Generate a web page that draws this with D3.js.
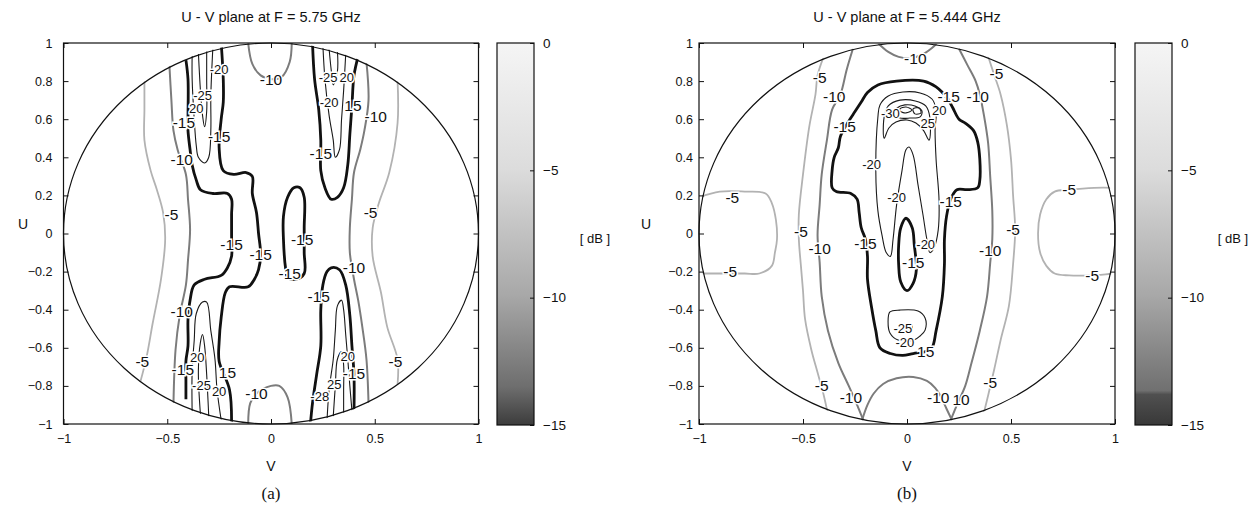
<!DOCTYPE html>
<html>
<head>
<meta charset="utf-8">
<script src="https://cdn.jsdelivr.net/npm/d3@7"></script>
<style>
  body { margin: 0; background: #fff; }
  svg text { font-family: "Liberation Sans", Arial, Helvetica, sans-serif; }
  svg text.caption { font-family: "Liberation Serif", "Times New Roman", serif; }
</style>
</head>
<body>
<svg id="chart" width="1256" height="506"></svg>
<script>
// tick values and texts
const vTicks = [-1, -0.5, 0, 0.5, 1];
const uTicks = [-1, -0.8, -0.6, -0.4, -0.2, 0, 0.2, 0.4, 0.6, 0.8, 1];
const dbTicks = [0, -5, -10, -15];
const titles = ["U - V plane at F = 5.75 GHz", "U - V plane at F = 5.444 GHz"];
const captions = ["(a)", "(b)"];

// contour lines, level in dB, points as [v, u]
const contoursA = [
  {level: -5, pts: [[-0.61,0.80],[-0.61,0.65],[-0.61,0.49],[-0.58,0.33],[-0.55,0.23],[-0.52,0.11],[-0.51,-0.03],[-0.53,-0.24],[-0.57,-0.47],[-0.60,-0.65],[-0.63,-0.78]]},
  {level: -5, pts: [[0.61,0.80],[0.61,0.58],[0.57,0.32],[0.52,0.16],[0.49,0.03],[0.49,-0.12],[0.53,-0.31],[0.56,-0.49],[0.61,-0.66],[0.61,-0.79]]},
  {level: -10, pts: [[-0.49,0.89],[-0.48,0.70],[-0.47,0.54],[-0.45,0.44],[-0.41,0.31],[-0.40,0.18],[-0.39,0.02],[-0.40,-0.14],[-0.41,-0.27],[-0.44,-0.43],[-0.46,-0.61],[-0.47,-0.89]]},
  {level: -10, pts: [[0.46,0.90],[0.47,0.70],[0.45,0.54],[0.43,0.44],[0.40,0.32],[0.39,0.18],[0.38,0.03],[0.38,-0.10],[0.40,-0.24],[0.42,-0.35],[0.44,-0.49],[0.46,-0.66],[0.47,-0.89]]},
  {level: -10, pts: [[-0.11,1.0],[-0.09,0.89],[-0.05,0.83],[0.0,0.81],[0.05,0.82],[0.09,0.90],[0.10,1.0]]},
  {level: -10, pts: [[-0.11,-1.0],[-0.10,-0.89],[-0.07,-0.84],[0.0,-0.80],[0.04,-0.80],[0.08,-0.86],[0.10,-1.0]]},
  {level: -15, pts: [[-0.41,0.91],[-0.40,0.81],[-0.40,0.61],[-0.40,0.54],[-0.39,0.44],[-0.38,0.36],[-0.36,0.28],[-0.34,0.23],[-0.28,0.21],[-0.21,0.21],[-0.19,0.18],[-0.19,0.10],[-0.19,-0.01],[-0.19,-0.12],[-0.21,-0.18],[-0.24,-0.22],[-0.32,-0.24],[-0.37,-0.27],[-0.39,-0.35],[-0.40,-0.45],[-0.40,-0.59],[-0.41,-0.67],[-0.41,-0.77],[-0.41,-0.87]]},
  {level: -15, pts: [[-0.24,1.0],[-0.23,0.81],[-0.23,0.69],[-0.24,0.60],[-0.25,0.45],[-0.23,0.33],[-0.18,0.31],[-0.12,0.32],[-0.09,0.30],[-0.09,0.21],[-0.07,0.11],[-0.06,0.0],[-0.05,-0.11],[-0.06,-0.19],[-0.08,-0.24],[-0.11,-0.28],[-0.20,-0.28],[-0.22,-0.31],[-0.24,-0.44],[-0.25,-0.57],[-0.25,-0.67],[-0.20,-0.82],[-0.19,-1.0]]},
  {level: -15, closed: true, pts: [[0.07,-0.18],[0.06,-0.03],[0.06,0.09],[0.08,0.19],[0.11,0.24],[0.14,0.24],[0.16,0.19],[0.16,0.03],[0.16,-0.10],[0.16,-0.21],[0.12,-0.24],[0.08,-0.23]]},
  {level: -15, pts: [[0.20,1.0],[0.21,0.81],[0.23,0.65],[0.24,0.49],[0.24,0.33],[0.26,0.24],[0.29,0.18],[0.32,0.19],[0.35,0.24],[0.37,0.36],[0.38,0.52],[0.39,0.67],[0.40,0.83],[0.42,0.93]]},
  {level: -15, pts: [[0.19,-1.0],[0.20,-0.89],[0.22,-0.74],[0.24,-0.59],[0.24,-0.40],[0.25,-0.27],[0.27,-0.20],[0.29,-0.18],[0.33,-0.19],[0.36,-0.27],[0.38,-0.43],[0.39,-0.59],[0.40,-0.74],[0.40,-0.93]]},
  {level: -20, pts: [[-0.38,0.94],[-0.38,0.81],[-0.37,0.60],[-0.36,0.46],[-0.35,0.40],[-0.32,0.37],[-0.30,0.40],[-0.29,0.54],[-0.29,0.72],[-0.28,0.98]]},
  {level: -25, pts: [[-0.35,0.95],[-0.34,0.75],[-0.33,0.62],[-0.32,0.56],[-0.31,0.64],[-0.31,0.81],[-0.31,0.97]]},
  {level: -20, pts: [[0.25,0.99],[0.26,0.81],[0.28,0.62],[0.30,0.49],[0.31,0.40],[0.33,0.44],[0.34,0.60],[0.35,0.75],[0.36,0.94]]},
  {level: -25, pts: [[0.28,0.97],[0.29,0.86],[0.30,0.78],[0.32,0.85],[0.32,0.96]]},
  {level: -20, pts: [[-0.38,-0.94],[-0.38,-0.72],[-0.37,-0.56],[-0.36,-0.42],[-0.33,-0.36],[-0.31,-0.36],[-0.29,-0.51],[-0.27,-0.66],[-0.26,-0.82],[-0.24,-0.98]]},
  {level: -25, pts: [[-0.34,-0.95],[-0.35,-0.72],[-0.34,-0.57],[-0.33,-0.53],[-0.32,-0.59],[-0.31,-0.74],[-0.30,-0.96]]},
  {level: -20, pts: [[0.27,-0.98],[0.28,-0.82],[0.30,-0.66],[0.31,-0.51],[0.32,-0.38],[0.34,-0.35],[0.35,-0.40],[0.36,-0.53],[0.37,-0.66],[0.38,-0.80],[0.39,-0.93]]},
  {level: -25, pts: [[0.30,-0.96],[0.31,-0.80],[0.32,-0.66],[0.34,-0.62],[0.35,-0.69],[0.35,-0.82],[0.35,-0.94]]}
];

const labelsA = [
  [-0.48, 0.10, "-5"], [0.48, 0.11, "-5"], [-0.62, -0.67, "-5"], [0.60, -0.67, "-5"],
  [-0.43, 0.39, "-10"], [-0.43, -0.41, "-10"], [0.0, 0.81, "-10"], [-0.07, -0.84, "-10"],
  [0.505, 0.615, "-10"], [0.40, -0.18, "-10"],
  [-0.42, 0.585, "-15"], [-0.25, 0.51, "-15"], [0.24, 0.42, "-15"], [0.395, 0.67, "15"],
  [-0.19, -0.06, "-15"], [-0.05, -0.11, "-15"], [0.15, -0.03, "-15"], [0.09, -0.21, "-15"],
  [0.23, -0.33, "-15"], [-0.425, -0.715, "-15"], [-0.21, -0.73, "15"], [0.40, -0.735, "-15"],
  [-0.25, 0.86, "-20"], [-0.36, 0.655, "20"], [0.28, 0.69, "-20"], [0.365, 0.82, "20"],
  [-0.355, -0.65, "20"], [-0.25, -0.83, "20"], [0.37, -0.645, "20"],
  [-0.33, 0.725, "-25"], [0.275, 0.82, "-25"], [-0.335, -0.80, "-25"], [0.305, -0.795, "25"], [0.235, -0.855, "-28"]
];

const contoursB = [
  {level: -5, pts: [[-1.0,0.19],[-0.90,0.22],[-0.78,0.22],[-0.68,0.21],[-0.65,0.16],[-0.63,0.07],[-0.625,-0.03],[-0.635,-0.10],[-0.65,-0.17],[-0.71,-0.21],[-0.78,-0.21],[-0.90,-0.21],[-1.0,-0.21]]},
  {level: -5, pts: [[1.0,0.24],[0.90,0.24],[0.78,0.23],[0.71,0.22],[0.67,0.18],[0.64,0.10],[0.63,0.0],[0.64,-0.10],[0.67,-0.17],[0.71,-0.21],[0.78,-0.22],[0.88,-0.22],[1.0,-0.21]]},
  {level: -5, pts: [[-0.40,0.93],[-0.43,0.83],[-0.44,0.73],[-0.47,0.56],[-0.50,0.31],[-0.52,0.10],[-0.52,-0.03],[-0.51,-0.17],[-0.50,-0.30],[-0.49,-0.45],[-0.46,-0.61],[-0.43,-0.73],[-0.40,-0.85],[-0.38,-0.95]]},
  {level: -5, pts: [[0.39,0.93],[0.42,0.83],[0.45,0.73],[0.48,0.57],[0.50,0.39],[0.51,0.20],[0.52,0.02],[0.51,-0.16],[0.49,-0.38],[0.45,-0.56],[0.42,-0.71],[0.39,-0.85],[0.37,-0.94]]},
  {level: -10, pts: [[-0.26,0.97],[-0.29,0.86],[-0.32,0.73],[-0.36,0.65],[-0.385,0.49],[-0.41,0.31],[-0.42,0.15],[-0.43,-0.01],[-0.42,-0.15],[-0.41,-0.33],[-0.38,-0.51],[-0.33,-0.68],[-0.28,-0.80],[-0.24,-0.90],[-0.21,-0.98]]},
  {level: -10, pts: [[0.25,0.97],[0.29,0.885],[0.33,0.80],[0.35,0.73],[0.37,0.62],[0.39,0.475],[0.40,0.30],[0.41,0.12],[0.41,-0.03],[0.40,-0.155],[0.385,-0.33],[0.35,-0.51],[0.31,-0.68],[0.28,-0.80],[0.24,-0.90],[0.21,-0.98]]},
  {level: -10, pts: [[-0.14,1.0],[-0.09,0.953],[-0.04,0.927],[0.014,0.92],[0.07,0.937],[0.12,0.974],[0.145,1.0]]},
  {level: -10, pts: [[-0.216,-0.98],[-0.19,-0.90],[-0.16,-0.84],[-0.115,-0.79],[-0.05,-0.76],[0.03,-0.753],[0.096,-0.774],[0.135,-0.81],[0.16,-0.85],[0.19,-0.92],[0.216,-0.98]]},
  {level: -15, closed: true, pts: [[0.03,-0.63],[-0.02,-0.64],[-0.08,-0.63],[-0.13,-0.60],[-0.15,-0.51],[-0.17,-0.39],[-0.19,-0.24],[-0.19,-0.12],[-0.20,-0.03],[-0.22,0.03],[-0.23,0.11],[-0.24,0.18],[-0.27,0.21],[-0.34,0.22],[-0.36,0.24],[-0.36,0.33],[-0.35,0.40],[-0.33,0.45],[-0.32,0.51],[-0.28,0.59],[-0.25,0.64],[-0.22,0.69],[-0.19,0.74],[-0.14,0.78],[-0.05,0.80],[0.08,0.80],[0.14,0.77],[0.17,0.74],[0.20,0.70],[0.22,0.66],[0.25,0.60],[0.28,0.58],[0.32,0.54],[0.34,0.48],[0.35,0.39],[0.35,0.28],[0.34,0.24],[0.29,0.23],[0.24,0.23],[0.21,0.18],[0.19,0.09],[0.18,-0.03],[0.18,-0.16],[0.17,-0.33],[0.14,-0.51],[0.12,-0.60],[0.09,-0.62]]},
  {level: -15, closed: true, pts: [[-0.005,0.08],[-0.03,0.03],[-0.04,-0.06],[-0.04,-0.165],[-0.03,-0.255],[0.0,-0.30],[0.03,-0.26],[0.045,-0.19],[0.035,-0.06],[0.025,0.03]]},
  {level: -20, closed: true, pts: [[-0.14,0.61],[-0.15,0.33],[-0.14,0.12],[-0.12,-0.01],[-0.10,-0.10],[-0.08,-0.12],[-0.067,-0.03],[-0.05,0.15],[-0.024,0.33],[-0.005,0.44],[0.01,0.454],[0.03,0.41],[0.053,0.255],[0.077,0.097],[0.096,-0.034],[0.11,-0.10],[0.13,-0.076],[0.15,0.018],[0.154,0.176],[0.14,0.386],[0.135,0.543],[0.14,0.648],[0.12,0.706],[0.063,0.738],[-0.02,0.743],[-0.09,0.722],[-0.13,0.675]]},
  {level: -25, closed: true, pts: [[-0.11,0.50],[-0.11,0.61],[-0.09,0.67],[-0.034,0.70],[0.04,0.696],[0.09,0.67],[0.11,0.61],[0.106,0.49],[0.08,0.54],[0.043,0.58],[0.0,0.596],[-0.053,0.585],[-0.087,0.554]]},
  {level: -30, closed: true, pts: [[-0.067,0.622],[-0.048,0.659],[-0.01,0.675],[0.038,0.669],[0.072,0.643],[0.063,0.612],[0.014,0.606],[-0.034,0.606]]},
  {level: -35, closed: true, pts: [[-0.034,0.654],[-0.005,0.664],[0.024,0.648],[-0.005,0.633],[-0.034,0.643]]},
  {level: -35, closed: true, pts: [[0.029,0.654],[0.058,0.659],[0.067,0.633],[0.038,0.628]]},
  {level: -20, closed: true, pts: [[-0.082,-0.412],[-0.034,-0.402],[0.053,-0.407],[0.087,-0.444],[0.087,-0.507],[0.063,-0.538],[0.034,-0.559],[-0.043,-0.559],[-0.082,-0.522],[-0.091,-0.465]]},
  {level: -25, closed: true, pts: [[-0.01,-0.48],[0.019,-0.475],[0.024,-0.507],[-0.005,-0.512]]}
];

const labelsB = [
  [-0.84, 0.19, "-5"], [-0.85, -0.20, "-5"], [0.78, 0.23, "-5"], [0.89, -0.22, "-5"],
  [-0.42, 0.82, "-5"], [-0.51, 0.01, "-5"], [-0.41, -0.80, "-5"],
  [0.43, 0.84, "-5"], [0.51, 0.02, "-5"], [0.40, -0.78, "-5"],
  [-0.35, 0.72, "-10"], [-0.42, -0.08, "-10"], [-0.27, -0.86, "-10"],
  [0.34, 0.72, "-10"], [0.40, -0.09, "-10"], [0.26, -0.87, "10"],
  [0.04, 0.92, "-10"], [0.15, -0.86, "-10"],
  [-0.30, 0.56, "-15"], [0.20, 0.72, "-15"], [0.21, 0.17, "-15"], [-0.20, -0.05, "-15"],
  [0.09, -0.62, "15"], [0.03, -0.15, "-15"],
  [-0.17, 0.36, "-20"], [-0.05, 0.19, "-20"], [0.155, 0.645, "20"], [0.09, -0.06, "-20"], [-0.01, -0.57, "-20"],
  [0.10, 0.58, "25"], [-0.02, -0.50, "-25"], [-0.08, 0.63, "-30"]
];

const svg = d3.select("#chart");
const defs = svg.append("defs");

// grey colour bar like the gray colormap of the source
function addGradient(id, dark) {
  const gr = defs.append("linearGradient").attr("id", id)
    .attr("x1", 0).attr("y1", 0).attr("x2", 0).attr("y2", 1);
  const stops = dark
    ? [[0, "#f5f5f5"], [0.33, "#dcdcdc"], [0.66, "#a8a8a8"], [0.91, "#707070"], [0.92, "#505050"], [1, "#383838"]]
    : [[0, "#f5f5f5"], [0.33, "#dcdcdc"], [0.66, "#a8a8a8"], [0.9, "#6e6e6e"], [1, "#3c3c3c"]];
  stops.forEach(s => gr.append("stop").attr("offset", s[0]).attr("stop-color", s[1]));
}
addGradient("cbA", false);
addGradient("cbB", true);

function lineStyle(level) {
  if (level === -5) return {color: "#b2b2b2", width: 1.8};
  if (level === -10) return {color: "#7c7c7c", width: 2};
  if (level === -15) return {color: "#111", width: 2.8};
  return {color: "#1a1a1a", width: 1.1};
}

// labels of the deep levels sit in crowded corners, so they are a bit smaller
function labelSize(txt) {
  const n = Math.abs(parseInt(txt, 10));
  return n >= 20 ? "13px" : "15.5px";
}

const panels = [
  {id: "A", left: 63.5, right: 478.5, labelPad: 11, cbLeft: 497, uLabelX: 23, contours: contoursA, labels: labelsA},
  {id: "B", left: 699, right: 1115, labelPad: 6, cbLeft: 1135, uLabelX: 646, contours: contoursB, labels: labelsB}
];

const plotTop = 43, plotBottom = 424;

panels.forEach((p, i) => {
  const x = d3.scaleLinear().domain([-1, 1]).range([p.left, p.right]);
  const y = d3.scaleLinear().domain([-1, 1]).range([plotBottom, plotTop]);
  const g = svg.append("g");

  // clip to the unit circle
  defs.append("clipPath").attr("id", "clip" + p.id)
    .append("ellipse")
    .attr("cx", x(0)).attr("cy", y(0))
    .attr("rx", x(1) - x(0) + 1).attr("ry", y(-1) - y(0) + 1);

  // contour lines
  const line = d3.line().x(d => x(d[0])).y(d => y(d[1]));
  const cg = g.append("g").attr("clip-path", `url(#clip${p.id})`);
  cg.selectAll("path")
    .data(p.contours)
    .enter()
    .append("path")
    .attr("d", d => line.curve(d.closed ? d3.curveCatmullRomClosed.alpha(0.5) : d3.curveCatmullRom.alpha(0.5))(d.pts))
    .attr("fill", "none")
    .attr("stroke", d => lineStyle(d.level).color)
    .attr("stroke-width", d => lineStyle(d.level).width)
    .attr("stroke-linejoin", "round");

  // unit circle
  g.append("ellipse")
    .attr("cx", x(0)).attr("cy", y(0))
    .attr("rx", x(1) - x(0)).attr("ry", y(-1) - y(0))
    .attr("fill", "none").attr("stroke", "#111").attr("stroke-width", 1.2);

  // inline contour labels
  g.selectAll("text.clabel")
    .data(p.labels)
    .enter()
    .append("text")
    .attr("class", "clabel")
    .attr("x", d => x(d[0]))
    .attr("y", d => y(d[1]))
    .attr("text-anchor", "middle")
    .attr("dominant-baseline", "central")
    .attr("font-size", d => labelSize(d[2]))
    .attr("fill", "#111")
    .attr("stroke", "#fff")
    .attr("stroke-width", 3)
    .attr("paint-order", "stroke")
    .text(d => d[2]);

  // axes with inward ticks
  const styleAxis = sel => {
    sel.select(".domain").remove();
    sel.selectAll(".tick line").attr("stroke", "#111");
    sel.selectAll(".tick text").attr("font-size", "12.5px").attr("fill", "#111")
      .attr("font-family", "'Liberation Sans', Arial, sans-serif");
  };
  g.append("g").attr("transform", `translate(0,${plotBottom})`)
    .call(d3.axisBottom(x).tickValues(vTicks).tickSizeInner(-5).tickSizeOuter(0).tickPadding(10).tickFormat(d3.format("")))
    .call(styleAxis);
  g.append("g").attr("transform", `translate(0,${plotTop})`)
    .call(d3.axisTop(x).tickValues(vTicks).tickSizeInner(-5).tickSizeOuter(0).tickFormat(""))
    .call(styleAxis);
  g.append("g").attr("transform", `translate(${p.left},0)`)
    .call(d3.axisLeft(y).tickValues(uTicks).tickSizeInner(-5).tickSizeOuter(0).tickPadding(p.labelPad).tickFormat(d3.format("")))
    .call(styleAxis);
  g.append("g").attr("transform", `translate(${p.right},0)`)
    .call(d3.axisRight(y).tickValues(uTicks).tickSizeInner(-5).tickSizeOuter(0).tickFormat(""))
    .call(styleAxis);

  // frame
  g.append("rect")
    .attr("x", p.left).attr("y", plotTop)
    .attr("width", p.right - p.left).attr("height", plotBottom - plotTop)
    .attr("fill", "none").attr("stroke", "#111").attr("stroke-width", 1.2);

  // titles and axis names
  g.append("text").attr("x", x(0)).attr("y", 22).attr("text-anchor", "middle")
    .attr("font-size", "14.5px").attr("fill", "#111").text(titles[i]);
  g.append("text").attr("x", x(0)).attr("y", 471).attr("text-anchor", "middle")
    .attr("font-size", "14px").attr("fill", "#111").text("V");
  g.append("text").attr("x", p.uLabelX).attr("y", 229).attr("text-anchor", "middle")
    .attr("font-size", "14px").attr("fill", "#111").text("U");
  g.append("text").attr("class", "caption").attr("x", x(0)).attr("y", 499).attr("text-anchor", "middle")
    .attr("font-size", "17px").attr("fill", "#111").text(captions[i]);

  // colour bar
  const c = d3.scaleLinear().domain([-15, 0]).range([425, plotTop]);
  const cbW = 37;
  g.append("rect")
    .attr("x", p.cbLeft).attr("y", c(0))
    .attr("width", cbW).attr("height", c(-15) - c(0))
    .attr("fill", `url(#cb${p.id})`)
    .attr("stroke", "#111").attr("stroke-width", 1.2);
  g.append("g").attr("transform", `translate(${p.cbLeft + cbW},0)`)
    .call(d3.axisRight(c).tickValues(dbTicks).tickSizeInner(-4).tickSizeOuter(0).tickPadding(9))
    .call(sel => {
      sel.select(".domain").remove();
      sel.selectAll(".tick line").attr("stroke", "#111");
      sel.selectAll(".tick text").attr("font-size", "13.5px").attr("fill", "#111")
        .attr("font-family", "'Liberation Sans', Arial, sans-serif");
    });
  g.append("text")
    .attr("x", p.cbLeft + cbW + 61).attr("y", 238)
    .attr("text-anchor", "middle").attr("dominant-baseline", "central")
    .attr("font-size", "13px").attr("fill", "#111").text("[ dB ]");
});
</script>
</body>
</html>
